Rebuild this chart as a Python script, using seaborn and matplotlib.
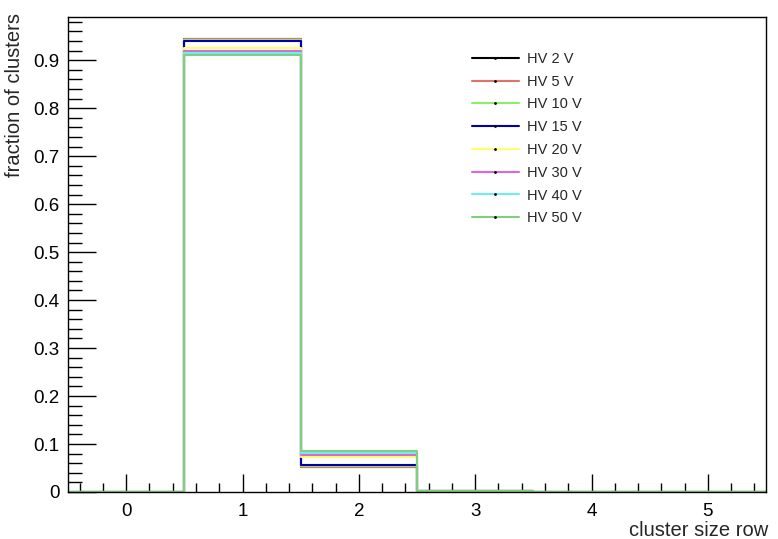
import numpy as np
import pandas as pd
import matplotlib
matplotlib.use("Agg")
import matplotlib.pyplot as plt
from matplotlib.lines import Line2D
from matplotlib.ticker import MultipleLocator
import seaborn as sns

sns.set_theme(style="white")
plt.rcParams['font.family'] = ['Liberation Sans', 'DejaVu Sans']

# bin centers (cluster size row) and bin edges
cluster_size = [0, 1, 2, 3, 4, 5]
bin_edges = [-0.5, 0.5, 1.5, 2.5, 3.5, 4.5, 5.5]

labels = ["HV 2 V", "HV 5 V", "HV 10 V", "HV 15 V", "HV 20 V", "HV 30 V", "HV 40 V", "HV 50 V"]
colors = ["#000000", "#e0726a", "#8eee6c", "#0000b0", "#ffff66", "#dd66dd", "#6eeeee", "#7fcf7f"]

hv2 = [0.0, 0.944, 0.053, 0.003, 0.0005, 0.0]
hv5 = [0.0, 0.944, 0.053, 0.003, 0.0005, 0.0]
hv10 = [0.0, 0.943, 0.054, 0.003, 0.0005, 0.0]
hv15 = [0.0, 0.940, 0.056, 0.003, 0.0005, 0.0]
hv20 = [0.0, 0.925, 0.072, 0.003, 0.0005, 0.0]
hv30 = [0.0, 0.919, 0.078, 0.003, 0.0005, 0.0]
hv40 = [0.0, 0.915, 0.082, 0.003, 0.0005, 0.0]
hv50 = [0.0, 0.911, 0.086, 0.003, 0.0005, 0.0]
series = [hv2, hv5, hv10, hv15, hv20, hv30, hv40, hv50]

fig = plt.figure(figsize=(7.78, 5.39), dpi=100)
ax = fig.add_axes([68/778, 1-492/539, (766-68)/778, (492-17)/539])

for lab, col, vals in zip(labels, colors, series):
    df = pd.DataFrame({"size": cluster_size, "frac": vals})
    sns.histplot(data=df, x="size", weights="frac", bins=bin_edges,
                 element="step", fill=False, color=col, linewidth=1.5, ax=ax)

ax.set_xlim(-0.5, 5.5)
ax.set_ylim(0, 0.99)
ax.xaxis.set_major_locator(MultipleLocator(1))
ax.xaxis.set_minor_locator(MultipleLocator(0.2))
ax.yaxis.set_major_locator(MultipleLocator(0.1))
ax.yaxis.set_minor_locator(MultipleLocator(0.02))
ax.set_yticks(np.arange(0, 0.95, 0.1))
ax.set_yticklabels(["0"] + [f"{v:.1f}" for v in np.arange(0.1, 0.95, 0.1)])
ax.tick_params(axis="both", which="both", direction="in", colors="black",
               labelsize=13.5, left=True, bottom=True, top=False, right=False)
ax.tick_params(axis="x", which="major", length=13, width=1, pad=8)
ax.tick_params(axis="x", which="minor", length=6.5, width=1)
ax.tick_params(axis="y", which="major", length=20, width=1, pad=6)
ax.tick_params(axis="y", which="minor", length=10, width=1)
for s in ax.spines.values():
    s.set_color("black")
    s.set_linewidth(1)

ax.set_xlabel("cluster size row", fontsize=14.5, loc="right")
ax.set_ylabel("fraction of clusters", fontsize=14.5, loc="top")
ax.xaxis.set_label_coords(1.003, -0.061)
ax.yaxis.set_label_coords(-0.063, 1.008)

handles = [Line2D([0], [0], color=c, lw=1.5, marker='.', markersize=2,
                  markerfacecolor='black', markeredgecolor='black') for c in colors]
ax.legend(handles, labels, loc="upper left", bbox_to_anchor=((472-68)/698, (492-52)/475),
          frameon=False, fontsize=10.5, handlelength=3.2, handletextpad=0.6,
          labelspacing=0.6, borderpad=0, borderaxespad=0, numpoints=1)

fig.savefig("out.png", dpi=100)
